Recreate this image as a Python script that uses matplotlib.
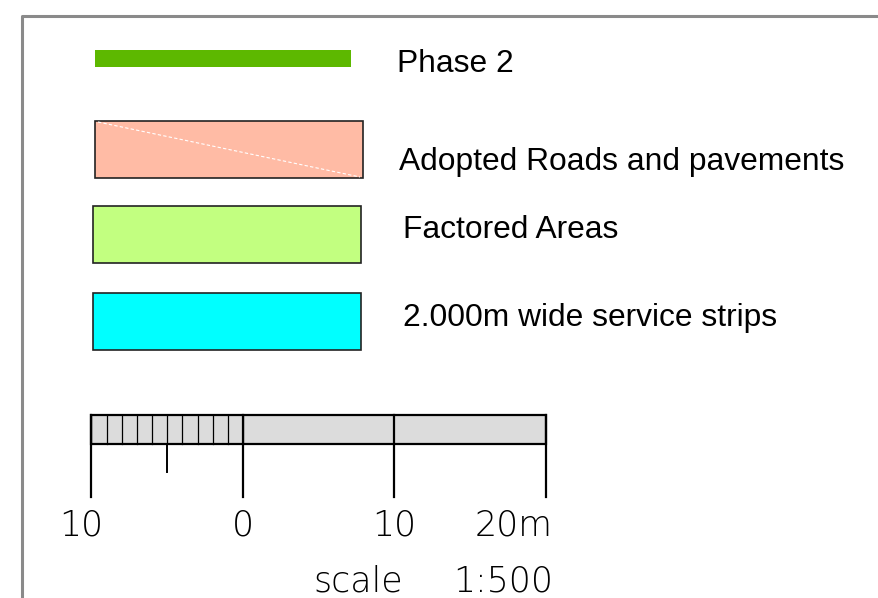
import matplotlib
matplotlib.use('Agg')
import matplotlib.pyplot as plt
from matplotlib.patches import Rectangle

# legend entries
labels = ['Phase 2', 'Adopted Roads and pavements', 'Factored Areas', '2.000m wide service strips']
colors = ['#5DB800', '#FFBBA5', '#C2FF80', '#00FFFF']

# scale bar (metres)
scale_ticks = [-10, 0, 10, 20]
scale_labels = ['10', '0', '10', '20m']
minor_ticks = list(range(-10, 1))
scale_word, scale_ratio = 'scale', '1:500'

# layout in pixels
W, H = 879, 598
sw_x = [95, 95, 93, 93]
sw_w = [256, 268, 268, 268]
sw_y = [50, 121, 206, 293]
sw_h = [17, 57, 57, 57]
txt_x = [397, 399, 403, 403]
txt_base = [72, 170, 238, 326]

x0, px_m = 243.0, 15.15   # pixel of 0 m, pixels per metre
bar_top, bar_bot = 415, 444
tick_bot, short_bot = 497, 472

def mx(m):
    return x0 + m * px_m

fig = plt.figure(figsize=(W / 100, H / 100), dpi=100)
ax = fig.add_axes([0, 0, 1, 1])
ax.set_xlim(0, W)
ax.set_ylim(H, 0)
ax.axis('off')

# frame (only top and left visible)
ax.plot([22, 22, W + 5], [H + 5, 16, 16], color='#8a8a8a', lw=2.2, solid_capstyle='butt')

for i, (lab, col) in enumerate(zip(labels, colors)):
    if i == 0:
        ax.add_patch(Rectangle((sw_x[i], sw_y[i]), sw_w[i], sw_h[i], facecolor=col, edgecolor='none'))
    else:
        ax.add_patch(Rectangle((sw_x[i], sw_y[i]), sw_w[i], sw_h[i], facecolor=col,
                               edgecolor='#222222', lw=1.2))
    if i == 1:
        ax.plot([sw_x[i] + 3, sw_x[i] + sw_w[i] - 3], [sw_y[i] + 1, sw_y[i] + sw_h[i] - 1],
                color='white', lw=0.8, ls=(0, (3, 2)))
    ax.text(txt_x[i], txt_base[i], lab, fontsize=22.9, family='Liberation Sans',
            va='baseline', ha='left', color='black')

# scale bar
ax.add_patch(Rectangle((mx(-10), bar_top), mx(20) - mx(-10), bar_bot - bar_top,
                       facecolor='#dcdcdc', edgecolor='black', lw=1.6, zorder=2))
for m in minor_ticks:
    ax.plot([mx(m), mx(m)], [bar_top, bar_bot], color='black', lw=0.9, zorder=3)
for m in scale_ticks:
    ax.plot([mx(m), mx(m)], [bar_top, tick_bot], color='black', lw=1.6, zorder=3)
ax.plot([mx(-5), mx(-5)], [bar_bot, short_bot], color='black', lw=1.4, zorder=3)

for m, lab in zip(scale_ticks, scale_labels):
    if lab == '20m':
        ax.text(mx(m) + 7, 536, lab, fontsize=25, family='DejaVu Sans', fontweight='ultralight',
                ha='right', va='baseline')
    else:
        ax.text(mx(m) - (10 if m == -10 else 0), 536, lab, fontsize=25, family='DejaVu Sans',
                fontweight='ultralight', ha='center', va='baseline')

ax.text(313, 592, scale_word, fontsize=25, family='DejaVu Sans', fontweight='ultralight',
        ha='left', va='baseline')
ax.text(mx(20) + 7, 592, scale_ratio, fontsize=25, family='DejaVu Sans', fontweight='ultralight',
        ha='right', va='baseline')

plt.savefig('out.png', dpi=100)
plt.close()
